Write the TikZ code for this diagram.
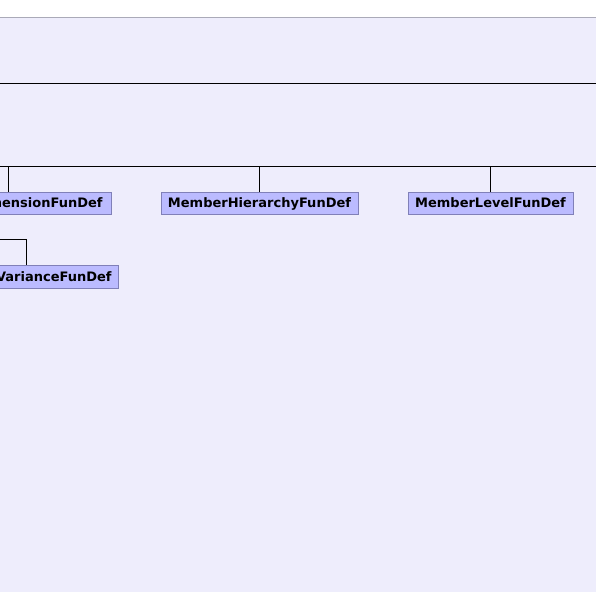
\documentclass[tikz,border=0pt]{standalone}
\usepackage{fontspec}
\setmainfont{DejaVu Sans}
\definecolor{bgc}{RGB}{238,237,252}
\definecolor{topline}{RGB}{170,170,184}
\definecolor{nodefill}{RGB}{187,187,255}
\definecolor{nodeline}{RGB}{128,128,184}
\begin{document}
\begin{tikzpicture}[x=1pt,y=-1pt,
  cls/.style={draw=nodeline, fill=nodefill, font=\bfseries\fontsize{13}{14}\selectfont,
    minimum height=22pt, text height=9.5pt, text depth=0pt, inner ysep=0pt, inner xsep=7pt, line width=0.8pt, text=black},
  edge/.style={draw=black, line width=0.9pt}]
\useasboundingbox (0,0) rectangle (596,592);
\clip (0,0) rectangle (596,592);
\fill[white] (0,0) rectangle (596,592);
\fill[bgc] (0,17) rectangle (596,592);
\draw[topline, line width=1pt] (0,17) -- (596,17);
% buses
\coordinate (b1l) at (0,83);
\coordinate (b1r) at (596,83);
\coordinate (b2l) at (0,166);
\coordinate (b2r) at (596,166);
\coordinate (vl) at (0,239);
\draw[edge] (b1l) -- (b1r);
\draw[edge] (b2l) -- (b2r);
% nodes
\node[cls, minimum width=206pt] (md) at (8,203) {MemberDimensionFunDef};
\node[cls, minimum width=197pt] (mh) at (259.5,203) {MemberHierarchyFunDef};
\node[cls, minimum width=165pt] (ml) at (490.5,203) {MemberLevelFunDef};
\node[cls, text width=170pt, align=right, anchor=east, minimum height=23pt] (var) at (119,276.5) {VarianceFunDef};
% connectors
\draw[edge] (md.north) -- (md.north |- b2l);
\draw[edge] (mh.north) -- (mh.north |- b2l);
\draw[edge] (ml.north) -- (ml.north |- b2l);
\draw[edge] (vl) -| (var.north);
\end{tikzpicture}
\end{document}
